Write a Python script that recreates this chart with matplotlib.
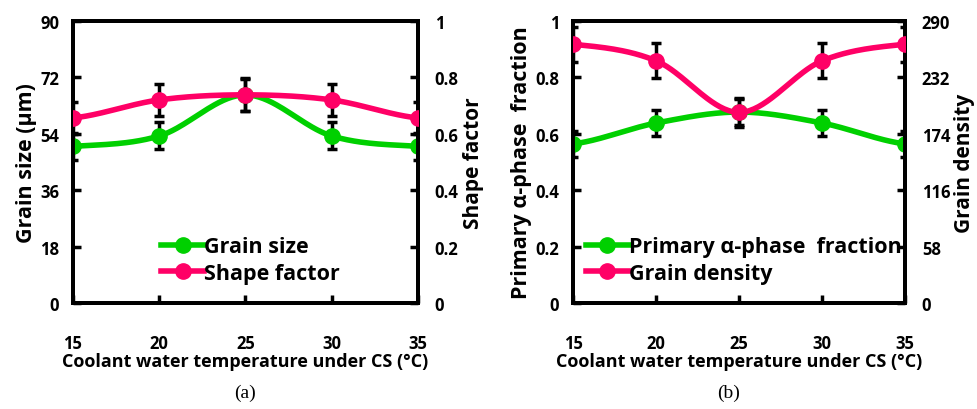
import numpy as np
import matplotlib
matplotlib.use("Agg")
import matplotlib.pyplot as plt

# ---------- Data ----------
temps = [15, 20, 25, 30, 35]

grain_size = [50.0, 53.3, 66.4, 53.3, 50.0]
grain_size_err = [4.3, 4.3, 5.0, 4.3, 4.3]
shape_factor = [0.656, 0.72, 0.738, 0.72, 0.656]
shape_factor_err = [0.058, 0.058, 0.058, 0.058, 0.058]

alpha_frac = [0.564, 0.638, 0.677, 0.638, 0.564]
alpha_frac_err = [0.047, 0.047, 0.047, 0.047, 0.047]
grain_density = [266, 249, 196, 249, 266]
grain_density_err = [18, 18, 15, 18, 18]

GREEN = "#00D000"
PINK = "#FF0066"
FONT = "Open Sans"

plt.rcParams["font.family"] = [FONT, "DejaVu Sans"]
plt.rcParams["font.weight"] = "bold"


def smooth(x, y, n=40):
    # Catmull-Rom style smoothing like spreadsheet "smoothed line"
    x = np.asarray(x, float)
    y = np.asarray(y, float)
    px = np.concatenate([[2 * x[0] - x[1]], x, [2 * x[-1] - x[-2]]])
    py = np.concatenate([[y[0]], y, [y[-1]]])
    xs, ys = [], []
    for i in range(1, len(px) - 2):
        t = np.linspace(0, 1, n)
        for arr, out in ((px, xs), (py, ys)):
            p0, p1, p2, p3 = arr[i - 1], arr[i], arr[i + 1], arr[i + 2]
            out.extend(0.5 * ((2 * p1) + (-p0 + p2) * t
                              + (2 * p0 - 5 * p1 + 4 * p2 - p3) * t ** 2
                              + (-p0 + 3 * p1 - 3 * p2 + p3) * t ** 3))
    return np.array(xs), np.array(ys)


def series(ax, y, err, color, label):
    sx, sy = smooth(temps, y)
    ax.plot(sx, sy, color=color, lw=4, solid_capstyle="round", zorder=3)
    ax.errorbar(temps, y, yerr=err, fmt="none", ecolor="black", elinewidth=2.5,
                capsize=3.5, capthick=2.5, zorder=2)
    ax.plot(temps, y, "o", color=color, ms=11, zorder=4)
    return ax.plot([], [], "-o", color=color, lw=4, ms=11, label=label)[0]


def style(ax, ax2, ylabel, y2label, ylim, yticks, y2lim, y2ticks, y2labels=None):
    ax.set_xlim(15, 35)
    ax.set_xticks(temps)
    ax.set_ylim(*ylim)
    ax.set_yticks(yticks)
    ax2.set_ylim(*y2lim)
    ax2.set_yticks(y2ticks)
    if y2labels is not None:
        ax2.set_yticklabels(y2labels)
    for a in (ax, ax2):
        for s in a.spines.values():
            s.set_linewidth(2.8)
        a.tick_params(axis="y", direction="in", length=6, width=2.5, labelsize=12)
    ax.tick_params(axis="y", pad=10)
    ax2.tick_params(axis="y", pad=12)
    ax.tick_params(axis="x", direction="in", length=6, width=2.5, labelsize=12, pad=22)
    ax.set_xlabel("Coolant water temperature under CS (°C)", fontsize=13,
                  fontweight="bold", labelpad=0)
    ax.set_ylabel(ylabel, fontsize=15.5, fontweight="bold", labelpad=2)
    ax2.set_ylabel(y2label, fontsize=15, fontweight="bold", labelpad=3)


fig = plt.figure(figsize=(9.78, 4.10), dpi=100)

# ---- (a) ----
axa = fig.add_axes([0.0746, 0.2585, 0.3528, 0.688])
axa2 = axa.twinx()
h1 = series(axa, grain_size, grain_size_err, GREEN, "Grain size")
h2 = series(axa2, shape_factor, shape_factor_err, PINK, "Shape factor")
style(axa, axa2, "Grain size (µm)", "Shape factor", (0, 90), [0, 18, 36, 54, 72, 90],
      (0, 1), [0, 0.2, 0.4, 0.6, 0.8, 1], ["0", "0.2", "0.4", "0.6", "0.8", "1"])
axa2.legend(handles=[h1, h2], loc="lower left", bbox_to_anchor=(0.2, 0.0),
            frameon=False, prop={"family": FONT, "weight": "bold", "size": 15.5},
            handlelength=2.0, handletextpad=0.0, labelspacing=0.25)
fig.text(0.251, 0.03, "(a)", ha="center", fontsize=14, fontweight="normal",
         family="Liberation Serif")

# ---- (b) ----
axb = fig.add_axes([0.586, 0.2585, 0.3395, 0.688])
axb2 = axb.twinx()
h3 = series(axb, alpha_frac, alpha_frac_err, GREEN, "Primary α-phase  fraction")
h4 = series(axb2, grain_density, grain_density_err, PINK, "Grain density")
style(axb, axb2, "Primary α-phase  fraction", "Grain density", (0, 1),
      [0, 0.2, 0.4, 0.6, 0.8, 1], (0, 290), [0, 58, 116, 174, 232, 290])
axb.set_yticklabels(["0", "0.2", "0.4", "0.6", "0.8", "1"])
axb2.legend(handles=[h3, h4], loc="lower left", bbox_to_anchor=(-0.02, 0.0),
            frameon=False, prop={"family": FONT, "weight": "bold", "size": 15.5},
            handlelength=2.0, handletextpad=0.0, labelspacing=0.25)
fig.text(0.745, 0.03, "(b)", ha="center", fontsize=14, fontweight="normal",
         family="Liberation Serif")

fig.savefig("out.png", dpi=100)
